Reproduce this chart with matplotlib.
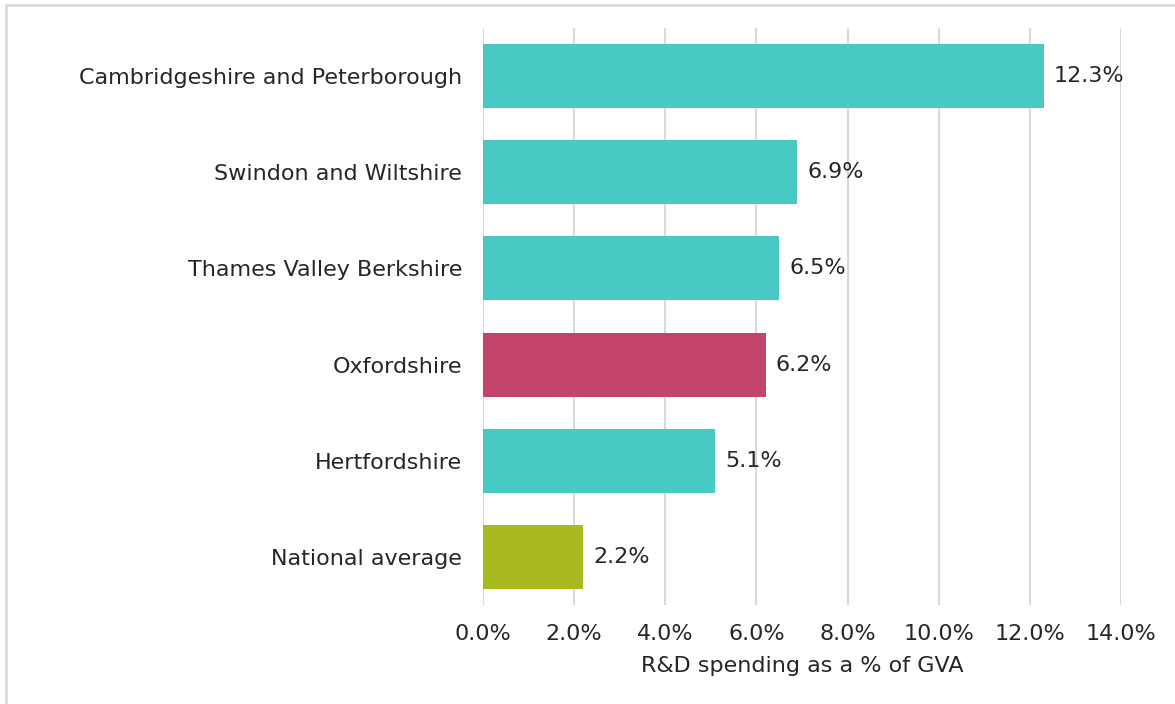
import matplotlib.pyplot as plt
from matplotlib.patches import Rectangle
from matplotlib.ticker import FuncFormatter

regions = ["Cambridgeshire and Peterborough", "Swindon and Wiltshire",
           "Thames Valley Berkshire", "Oxfordshire", "Hertfordshire",
           "National average"]
spend = [12.3, 6.9, 6.5, 6.2, 5.1, 2.2]
colours = ["#48C9C4", "#48C9C4", "#48C9C4", "#C4456B", "#48C9C4", "#A9B920"]
xticks = [0, 2, 4, 6, 8, 10, 12, 14]

plt.rcParams['font.family'] = ['DejaVu Sans']

W, H = 1175, 704
fig = plt.figure(figsize=(W / 100, H / 100), dpi=100)
ax = fig.add_axes([483 / W, 1 - 605 / H, (1121 - 483) / W, (605 - 28) / H])

y = list(range(len(regions)))
ax.barh(y, spend, height=0.665, color=colours, zorder=3)
for yi, v in zip(y, spend):
    ax.text(v + 0.22, yi, f"{v:.1f}%", va='center', ha='left',
            fontsize=16, color='#262626')

ax.set_ylim(len(regions) - 0.5, -0.5)
ax.set_xlim(0, 14)
ax.set_yticks(y)
ax.set_yticklabels(regions, fontsize=16, color='#262626')
ax.set_xticks(xticks)
ax.xaxis.set_major_formatter(FuncFormatter(lambda v, p: f"{v:.1f}%"))
ax.tick_params(axis='x', labelsize=16, labelcolor='#262626', length=0, pad=14)
ax.tick_params(axis='y', length=0, pad=15)
ax.grid(axis='x', color='#D9D9D9', linewidth=1.5, zorder=0)
for s in ax.spines.values():
    s.set_visible(False)
ax.set_xlabel("R&D spending as a % of GVA", fontsize=16, color='#262626',
              labelpad=8)

# light frame at top/left (cropped screenshot)
fig.patches.append(Rectangle((6 / W, -0.1), 1.2, 1 - 5 / H + 0.1,
                             transform=fig.transFigure, fill=False,
                             edgecolor='#D9D9D9', linewidth=2))

fig.savefig("out.png", dpi=100)
